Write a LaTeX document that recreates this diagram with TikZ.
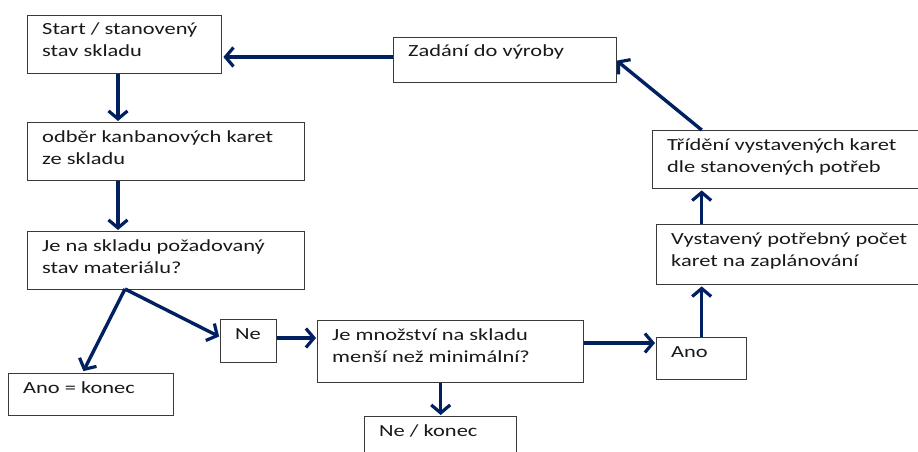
\documentclass[tikz,border=0pt]{standalone}
\usepackage{fontspec}
\setmainfont{Carlito}[FakeStretch=1.32]
\usetikzlibrary{arrows.meta,calc}
\definecolor{flowblue}{HTML}{002060}
\definecolor{boxline}{HTML}{3A3A3A}
\tikzset{
  box/.style={draw=boxline, line width=1.4pt, fill=white, inner sep=0pt, anchor=north west},
  txt/.style={anchor=base west, inner sep=0pt, text=black!90, font=\fontsize{17}{22}\selectfont},
  arr/.style={draw=flowblue, line width=3.4pt,
    -{Straight Barb[length=8pt,width=19pt,line width=3.2pt]}, shorten >=1pt},
}
% box with text: #1 name, #2 left, #3 top, #4 width, #5 height, #6 text
\newcommand{\flowbox}[6]{%
  \node[box, minimum width=#4pt, minimum height=#5pt] (#1) at (#2,#3) {};
  \node[txt] (#1-t) at ($(#1.north west)+(15pt,-20pt)$)
    {\parbox[t]{#4pt}{\raggedright #6}};
}
\begin{document}
\begin{tikzpicture}[x=1pt,y=-1pt]
\useasboundingbox[fill=white] (0,0) rectangle (918,452);

\flowbox{start}{27}{15}{194}{58}{Start / stanovený\\stav skladu}
\flowbox{odber}{27}{122}{277}{58}{odběr kanbanových karet\\ze skladu}
\flowbox{stav}{27}{231}{277}{58}{Je na skladu požadovaný\\stav materiálu?}
\flowbox{anokonec}{8}{373}{165}{42}{Ano = konec}
\flowbox{ne}{220}{319}{56}{43}{Ne}
\flowbox{mnoz}{317}{320}{266}{62}{Je množství na skladu\\menší než minimální?}
\flowbox{nekonec}{364}{416}{152}{56}{Ne / konec}
\flowbox{ano}{656}{337}{90}{42}{Ano}
\flowbox{vyst}{656}{224}{274}{60}{Vystavený potřebný počet\\karet na zaplánování}
\flowbox{trid}{652}{130}{278}{58}{Třídění vystavených karet\\dle stanovených potřeb}
\flowbox{zad}{393}{37}{223}{45}{Zadání do výroby}

% connection points
\coordinate (leftcol) at (118,0);
\coordinate (split) at (125,289);
\coordinate (anoin) at (656,343);
\coordinate (zadout) at (393,57);
\coordinate (zadin) at (616,60);

\draw[arr] (zadout) -- (zadout -| start.east);
\draw[arr] (start.south -| leftcol) -- (odber.north -| leftcol);
\draw[arr] (odber.south -| leftcol) -- (stav.north -| leftcol);
\draw[arr] (split) -- (83,372);
\draw[arr] (split) -- (220,337);
\draw[arr] (ne.east |- 0,338) -- (mnoz.west |- 0,338);
\draw[arr] (nekonec.north |- mnoz.south) -- (nekonec.north);
\draw[arr] (mnoz.east |- anoin) -- (anoin);
\draw[arr] (ano.north) -- (ano.north |- vyst.south);
\draw[arr] (vyst.north -| ano.north) -- (trid.south -| ano.north);
\draw[arr] (trid.north -| ano.north) -- (zadin);
\end{tikzpicture}
\end{document}
